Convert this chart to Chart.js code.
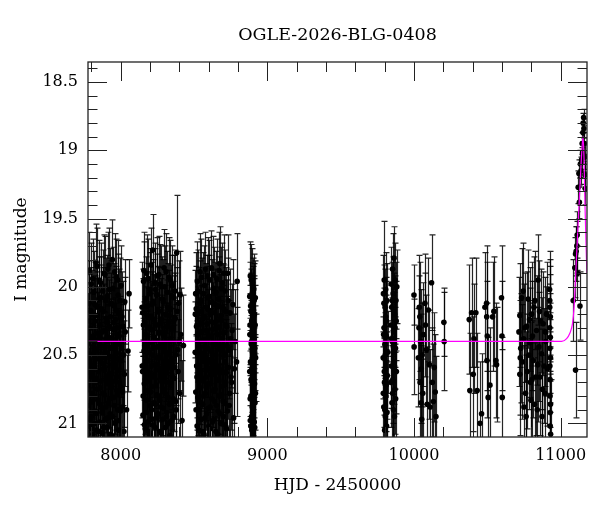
<!DOCTYPE html>
<html>
<head>
  <meta charset="utf-8">
  <title>OGLE-2026-BLG-0408</title>
  <script src="https://cdn.jsdelivr.net/npm/chart.js"></script>
  <style>
    body { margin: 0; background: #fff; }
    #wrap { width: 600px; height: 512px; }
  </style>
</head>
<body>
  <div id="wrap"><canvas id="lc" width="600" height="512"></canvas></div>

  <script>
    // ------------------- DATA --------------------
    // each point: [HJD - 2450000, I mag, error]
    const season1 = [
      [7778,20.41,0.36],[7781,20.87,0.42],[7784,20.12,0.31],[7787,21.02,0.45],[7790,20.55,0.37],[7793,20.30,0.33],[7796,20.95,0.43],[7799,19.98,0.30],[7802,20.66,0.39],[7805,20.20,0.32],
      [7808,20.78,0.41],[7811,21.08,0.46],[7814,20.36,0.34],[7817,20.04,0.30],[7820,20.59,0.38],[7823,20.91,0.43],[7826,20.25,0.33],[7829,20.70,0.40],[7832,19.82,0.28],[7835,20.47,0.36],
      [7838,21.05,0.45],[7841,20.15,0.31],[7844,20.83,0.42],[7847,20.39,0.35],[7850,20.62,0.38],[7853,19.95,0.29],[7856,20.99,0.44],[7859,20.28,0.33],[7862,20.74,0.40],[7865,20.08,0.30],
      [7868,20.52,0.37],[7871,21.07,0.46],[7874,20.33,0.34],[7877,20.89,0.43],[7880,20.18,0.32],[7883,20.60,0.38],[7886,19.90,0.28],[7889,20.79,0.41],[7892,20.44,0.36],[7895,20.97,0.44],
      [7898,20.10,0.31],[7901,20.68,0.39],[7904,20.26,0.33],[7907,21.03,0.45],[7910,20.50,0.37],[7913,19.87,0.27],[7916,20.85,0.42],[7919,20.37,0.35],[7922,20.64,0.39],[7925,20.02,0.30],
      [7928,20.93,0.43],[7931,20.22,0.32],[7934,20.72,0.40],[7937,20.45,0.36],[7940,21.09,0.46],[7943,19.80,0.29],[7946,20.57,0.38],[7949,20.31,0.34],[7952,20.81,0.41],[7955,20.14,0.31],
      [7958,20.69,0.39],[7961,21.00,0.44],[7964,20.24,0.33],[7967,20.49,0.37],[7970,19.93,0.28],[7973,20.76,0.41],[7976,20.35,0.34],[7979,20.90,0.43],[7982,20.06,0.30],[7985,20.61,0.38],
      [7988,20.19,0.32],[7991,20.98,0.44],[7994,20.42,0.35],[7998,20.73,0.40],[8002,19.99,0.29],[8006,20.54,0.37],[8011,20.88,0.42],[8016,20.29,0.33],[8022,21.06,0.45],[8028,20.11,0.31],
      [8040,20.90,0.40],[8050,20.47,0.30],[8057,20.05,0.25]
    ];
    const season1b = [
      [7779,20.72,0.40],[7782,20.25,0.34],[7785,19.88,0.28],[7788,20.49,0.37],[7791,20.97,0.44],[7794,20.63,0.39],[7797,20.18,0.32],[7800,20.84,0.42],[7803,21.04,0.45],[7806,20.39,0.35],
      [7809,19.94,0.29],[7812,20.58,0.38],[7815,20.80,0.41],[7818,20.27,0.33],[7821,21.00,0.44],[7824,20.13,0.31],[7827,20.46,0.36],[7830,20.93,0.43],[7833,20.67,0.39],[7836,20.21,0.32],
      [7839,19.85,0.28],[7842,20.75,0.40],[7845,20.34,0.34],[7848,21.06,0.45],[7851,20.09,0.31],[7854,20.53,0.37],[7857,20.86,0.42],[7860,20.43,0.36],[7863,19.97,0.29],[7866,20.69,0.40],
      [7869,20.16,0.32],[7872,20.92,0.43],[7875,20.56,0.38],[7878,20.03,0.30],[7881,20.78,0.41],[7884,21.03,0.45],[7887,20.32,0.34],[7890,20.61,0.38],[7893,19.91,0.28],[7896,20.48,0.37],
      [7899,20.88,0.43],[7902,20.23,0.33],[7905,20.71,0.40],[7908,20.07,0.30],[7911,20.96,0.44],[7914,20.40,0.35],[7917,20.65,0.39],[7920,19.84,0.27],[7923,20.29,0.34],[7926,20.82,0.42],
      [7929,21.08,0.46],[7932,20.51,0.37],[7935,20.12,0.31],[7938,20.74,0.40],[7941,20.38,0.35],[7944,20.95,0.44],[7947,20.01,0.30],[7950,20.59,0.38],[7953,20.26,0.33],[7956,20.87,0.42],
      [7959,19.89,0.28],[7962,20.44,0.36],[7965,20.99,0.44],[7968,20.17,0.32],[7971,20.66,0.39],[7974,20.30,0.34],[7977,20.79,0.41],[7980,19.95,0.29],[7983,20.53,0.37],[7986,21.05,0.45],
      [7989,20.36,0.35],[7992,20.70,0.40],[7995,20.10,0.31],[7999,20.91,0.43],[8004,20.45,0.36],[8009,20.22,0.33],[8014,20.77,0.41],[8019,20.50,0.37],[8025,20.64,0.39],[8031,20.33,0.40]
    ];
    const season2 = [
      [8146,20.15,0.33],[8149,20.62,0.39],[8152,20.94,0.43],[8155,20.28,0.34],[8158,19.88,0.28],[8161,20.71,0.40],[8164,20.43,0.36],[8167,21.04,0.45],[8170,20.09,0.31],[8173,20.55,0.37],
      [8176,20.83,0.42],[8179,20.21,0.32],[8182,20.99,0.44],[8185,20.36,0.35],[8188,19.94,0.29],[8191,20.67,0.39],[8194,20.48,0.36],[8197,21.08,0.46],[8200,20.02,0.30],[8203,20.77,0.41],
      [8206,20.31,0.34],[8209,20.58,0.38],[8212,20.90,0.43],[8215,20.13,0.31],[8218,19.73,0.26],[8221,20.45,0.36],[8224,21.01,0.45],[8227,20.24,0.33],[8230,20.64,0.39],[8233,19.97,0.29],
      [8236,20.86,0.42],[8239,20.39,0.35],[8242,20.72,0.40],[8245,20.06,0.30],[8248,20.96,0.44],[8251,20.52,0.37],[8254,20.17,0.32],[8257,20.80,0.41],[8260,19.91,0.28],[8263,20.34,0.34],
      [8266,21.06,0.46],[8269,20.60,0.38],[8272,20.27,0.33],[8275,20.88,0.43],[8278,20.00,0.30],[8281,20.69,0.40],[8284,20.42,0.36],[8287,20.97,0.44],[8290,20.11,0.31],[8293,20.56,0.37],
      [8296,19.86,0.28],[8299,20.75,0.41],[8302,20.33,0.34],[8305,21.03,0.45],[8308,20.20,0.32],[8311,20.63,0.39],[8314,20.92,0.43],[8317,20.04,0.30],[8320,20.49,0.37],[8323,20.81,0.42],
      [8326,20.26,0.33],[8329,19.93,0.29],[8332,20.70,0.40],[8335,21.09,0.46],[8338,20.38,0.35],[8341,20.16,0.32],[8344,20.85,0.42],[8347,20.53,0.37],[8350,19.99,0.29],[8353,20.66,0.39],
      [8356,20.30,0.34],[8360,20.95,0.44],[8364,20.08,0.31],[8368,20.59,0.38],[8372,20.23,0.33],[8376,20.84,0.42],[8382,19.75,0.42],[8388,20.46,0.36],[8395,20.12,0.31],[8402,20.78,0.41],
      [8410,20.35,0.34],[8418,20.98,0.44],[8428,20.43,0.37]
    ];
    const season2b = [
      [8147,20.58,0.38],[8150,20.19,0.32],[8153,20.80,0.41],[8156,19.96,0.29],[8159,20.47,0.36],[8162,21.01,0.45],[8165,20.26,0.33],[8168,20.68,0.40],[8171,20.35,0.35],[8174,20.92,0.43],
      [8177,19.90,0.28],[8180,20.54,0.37],[8183,20.14,0.31],[8186,20.76,0.41],[8189,21.06,0.46],[8192,20.30,0.34],[8195,20.63,0.39],[8198,20.05,0.30],[8201,20.87,0.42],[8204,20.41,0.36],
      [8207,19.84,0.27],[8210,20.73,0.40],[8213,20.22,0.33],[8216,20.97,0.44],[8219,20.50,0.37],[8222,20.11,0.31],[8225,20.66,0.39],[8228,20.85,0.42],[8231,20.37,0.35],[8234,21.03,0.45],
      [8237,20.02,0.30],[8240,20.57,0.38],[8243,20.28,0.33],[8246,20.79,0.41],[8249,19.92,0.28],[8252,20.44,0.36],[8255,20.93,0.43],[8258,20.18,0.32],[8261,20.61,0.38],[8264,20.33,0.34],
      [8267,20.83,0.42],[8270,19.98,0.29],[8273,20.52,0.37],[8276,21.07,0.46],[8279,20.24,0.33],[8282,20.70,0.40],[8285,20.09,0.31],[8288,20.45,0.36],[8291,20.89,0.43],[8294,20.36,0.35],
      [8297,20.65,0.39],[8300,20.00,0.30],[8303,20.78,0.41],[8306,20.48,0.36],[8309,19.89,0.28],[8312,20.95,0.44],[8315,20.29,0.34],[8318,20.60,0.38],[8321,20.15,0.32],[8324,21.00,0.44],
      [8327,20.55,0.37],[8330,20.21,0.33],[8333,20.86,0.42],[8336,20.40,0.35],[8339,19.95,0.29],[8342,20.72,0.40],[8345,20.31,0.34],[8348,20.98,0.44],[8351,20.07,0.30],[8354,20.59,0.38],
      [8358,20.82,0.42],[8362,20.25,0.33],[8366,20.67,0.39],[8370,20.03,0.30],[8374,20.50,0.37],[8379,20.90,0.43],[8385,20.18,0.32],[8392,20.62,0.38],[8399,20.40,0.36],[8406,20.06,0.32]
    ];
    const season3 = [
      [8508,20.48,0.37],[8511,20.05,0.30],[8514,20.90,0.43],[8517,20.29,0.34],[8520,20.66,0.39],[8523,19.96,0.29],[8526,20.81,0.42],[8529,20.40,0.35],[8532,21.05,0.45],[8535,20.18,0.32],
      [8538,20.58,0.38],[8541,19.89,0.28],[8544,20.74,0.41],[8547,20.33,0.34],[8550,20.97,0.44],[8553,20.10,0.31],[8556,20.52,0.37],[8559,20.86,0.42],[8562,20.23,0.33],[8565,20.69,0.40],
      [8568,21.08,0.46],[8571,19.99,0.29],[8574,20.44,0.36],[8577,20.78,0.41],[8580,20.15,0.32],[8583,20.61,0.38],[8586,20.93,0.43],[8589,20.27,0.33],[8592,19.92,0.28],[8595,20.71,0.40],
      [8598,20.37,0.35],[8601,21.02,0.45],[8604,20.07,0.30],[8607,20.55,0.37],[8610,20.88,0.43],[8613,20.20,0.32],[8616,20.64,0.39],[8619,19.86,0.27],[8622,20.47,0.36],[8625,20.99,0.44],
      [8628,20.31,0.34],[8631,20.76,0.41],[8634,20.01,0.30],[8637,20.57,0.38],[8640,20.84,0.42],[8643,20.13,0.31],[8646,20.42,0.36],[8649,21.06,0.46],[8652,20.25,0.33],[8655,19.94,0.29],
      [8658,20.68,0.40],[8661,20.35,0.35],[8664,20.91,0.43],[8667,20.09,0.31],[8670,20.60,0.38],[8673,20.80,0.41],[8676,19.83,0.27],[8679,20.46,0.36],[8682,21.00,0.44],[8685,20.21,0.32],
      [8688,20.73,0.40],[8691,20.38,0.35],[8694,19.97,0.29],[8697,20.63,0.39],[8700,20.95,0.44],[8703,20.16,0.32],[8706,20.50,0.37],[8709,20.85,0.42],[8712,20.03,0.30],[8715,20.70,0.40],
      [8718,20.28,0.33],[8722,21.04,0.45],[8726,20.43,0.36],[8730,19.90,0.28],[8735,20.59,0.38],[8740,20.87,0.43],[8746,20.19,0.32],[8752,20.66,0.39],[8760,20.32,0.34],[8770,20.96,0.44],
      [8780,20.40,0.38],[8790,20.55,0.40],[8794,19.96,0.35]
    ];
    const season3b = [
      [8509,20.20,0.32],[8512,20.77,0.41],[8515,20.16,0.31],[8518,20.58,0.38],[8521,21.02,0.45],[8524,20.35,0.35],[8527,20.03,0.30],[8530,20.69,0.40],[8533,20.44,0.36],[8536,20.90,0.43],
      [8539,20.12,0.31],[8542,20.62,0.39],[8545,20.27,0.33],[8548,20.85,0.42],[8551,19.93,0.28],[8554,20.49,0.37],[8557,21.06,0.46],[8560,20.39,0.35],[8563,20.05,0.30],[8566,20.80,0.41],
      [8569,20.54,0.37],[8572,20.22,0.33],[8575,20.96,0.44],[8578,19.87,0.27],[8581,20.66,0.39],[8584,20.32,0.34],[8587,20.74,0.40],[8590,20.08,0.31],[8593,20.45,0.36],[8596,20.89,0.43],
      [8599,20.17,0.32],[8602,20.60,0.38],[8605,19.95,0.29],[8608,20.71,0.40],[8611,21.04,0.45],[8614,20.36,0.35],[8617,20.53,0.37],[8620,20.11,0.31],[8623,20.82,0.42],[8626,20.26,0.33],
      [8629,20.64,0.39],[8632,19.91,0.28],[8635,20.97,0.44],[8638,20.41,0.36],[8641,20.19,0.32],[8644,20.75,0.41],[8647,20.50,0.37],[8650,20.04,0.30],[8653,20.87,0.42],[8656,20.30,0.34],
      [8659,20.58,0.38],[8662,21.08,0.46],[8665,20.14,0.31],[8668,20.68,0.40],[8671,19.88,0.28],[8674,20.43,0.36],[8677,20.93,0.43],[8680,20.24,0.33],[8683,20.61,0.38],[8686,20.01,0.30],
      [8689,20.79,0.41],[8692,20.47,0.36],[8695,20.15,0.32],[8698,20.84,0.42],[8701,20.34,0.35],[8704,19.90,0.28],[8707,20.72,0.40],[8710,20.55,0.37],[8713,21.01,0.45],[8716,20.18,0.32],
      [8720,20.63,0.39],[8724,20.29,0.34],[8728,20.91,0.43],[8733,20.10,0.31],[8738,20.46,0.36],[8743,20.78,0.41],[8749,20.38,0.36],[8756,20.70,0.40],[8765,20.13,0.33],[8775,20.60,0.40]
    ];
    const season4 = [
      [8880,20.07,0.25],[8881,20.35,0.30],[8883,20.82,0.35],[8884,19.92,0.25],[8885,20.55,0.32],[8887,21.02,0.40],[8888,20.18,0.28],[8889,20.68,0.33],[8891,20.42,0.30],[8892,20.95,0.38],
      [8893,20.25,0.28],[8895,20.60,0.32],[8896,19.98,0.26],[8897,20.88,0.36],[8899,20.48,0.31],[8900,21.07,0.40],[8901,20.12,0.27],[8903,20.75,0.34],[8904,20.30,0.29],[8905,20.92,0.37],
      [8907,20.02,0.26],[8908,20.63,0.33],[8909,20.38,0.30],[8911,20.99,0.39],[8912,20.20,0.28],[8913,20.71,0.34],[8915,20.45,0.31],[8916,20.85,0.36],[8918,20.08,0.27],[8920,20.52,0.32],
      [8880,20.62,0.33],[8882,20.28,0.29],[8884,20.98,0.39],[8886,20.14,0.27],[8888,20.80,0.35],[8890,19.95,0.26],[8892,20.40,0.30],[8894,21.05,0.40],[8896,20.33,0.29],[8898,20.70,0.34],
      [8900,20.05,0.26],[8902,20.58,0.32],[8904,20.90,0.37],[8906,20.22,0.28],[8908,20.82,0.35],[8910,20.10,0.27],[8912,20.50,0.31],[8914,21.03,0.40],[8917,20.28,0.29],[8919,20.78,0.35]
    ];
    const season5 = [
      [9790,20.52,0.30],[9792,20.05,0.28],[9794,20.88,0.35],[9796,20.30,0.29],[9797,19.95,0.43],[9799,20.70,0.33],[9800,21.05,0.38],[9802,20.42,0.30],[9803,20.15,0.28],[9805,20.95,0.36],
      [9806,20.60,0.31],[9808,20.22,0.29],[9809,20.80,0.34],[9811,20.36,0.30],[9813,21.02,0.37],[9815,20.10,0.27],[9818,20.65,0.32],[9821,20.48,0.30],
      [9842,20.28,0.29],[9844,19.98,0.27],[9846,20.58,0.31],[9848,20.15,0.28],[9850,20.85,0.34],[9852,20.40,0.30],[9854,19.87,0.26],[9856,20.68,0.32],[9858,20.05,0.27],[9860,20.90,0.35],
      [9862,20.33,0.29],[9864,19.79,0.23],[9866,20.55,0.31],[9868,20.20,0.28],[9870,20.75,0.33],[9872,19.95,0.27],[9874,20.45,0.30],[9877,20.10,0.28],[9880,20.62,0.31],[9883,20.00,0.27],
      [9791,20.78,0.34],[9793,20.35,0.30],[9795,20.12,0.28],[9798,20.62,0.32],[9801,20.90,0.36],[9804,20.50,0.31],[9807,20.02,0.27],[9810,20.72,0.34],[9812,20.25,0.29],[9816,20.92,0.37],
      [9843,20.70,0.33],[9847,20.38,0.30],[9851,20.10,0.28],[9855,20.78,0.34],[9859,20.48,0.31],[9863,20.18,0.28],[9867,20.95,0.37],[9871,20.30,0.29],[9875,20.82,0.35],[9879,20.25,0.29]
    ];
    const season6 = [
      [10000,20.06,0.22],[10001,20.44,0.35],[10030,20.52,0.36],[10034,20.30,0.38],[10036,20.15,0.38],[10040,20.22,0.40],[10042,20.70,0.40],[10045,20.40,0.38],[10048,20.85,0.42],[10050,20.60,0.40],
      [10053,20.97,0.44],[10056,20.50,0.38],[10060,20.78,0.42],[10064,20.35,0.38],[10075,20.12,0.36],[10078,20.28,0.38],[10085,20.46,0.40],[10090,20.86,0.42],[10098,20.17,0.38],[10105,20.57,0.40],
      [10110,20.88,0.42],[10120,19.97,0.35],[10125,20.70,0.40],[10132,20.84,0.42],[10138,20.59,0.40],[10145,20.77,0.42],[10150,20.95,0.44],[10204,20.26,0.25],[10206,20.40,0.36]
    ];
    const season7 = [
      [10377,20.24,0.40],[10381,20.76,0.42],[10393,20.19,0.40],[10404,20.64,0.42],[10409,20.38,0.40],[10422,20.19,0.40],[10431,20.76,0.42],[10450,21.00,0.45],[10461,20.93,0.44],[10484,20.15,0.40],
      [10495,20.12,0.42],[10496,20.22,0.40],[10498,20.54,0.42],[10500,20.36,0.40],[10506,20.81,0.44],[10518,20.72,0.42],[10536,20.22,0.40],[10545,20.18,0.40],[10559,20.54,0.42],[10563,20.57,0.42],
      [10597,20.08,0.38],[10600,20.36,0.40],[10602,20.81,0.44]
    ];
    const season8 = [
      [10716,20.33,0.40],[10722,20.21,0.38],[10722,20.64,0.45],[10728,20.45,0.40],[10734,20.08,0.36],[10740,20.55,0.42],[10745,20.03,0.35],[10750,20.88,0.45],[10755,20.30,0.40],[10761,20.78,0.45],
      [10768,20.29,0.40],[10772,20.62,0.42],[10779,20.09,0.36],[10784,20.50,0.40],[10791,20.41,0.40],[10795,20.70,0.44],[10798,20.83,0.45],[10802,20.20,0.38],[10808,20.36,0.40],[10813,20.54,0.42],
      [10818,20.15,0.37],[10825,20.10,0.36],[10830,20.66,0.43],[10836,20.32,0.40],[10841,20.90,0.45],[10847,19.95,0.33],[10852,20.44,0.40],[10859,20.66,0.43],[10864,20.25,0.38],[10870,20.49,0.41],
      [10876,20.75,0.44],[10881,20.27,0.38],[10887,20.58,0.42],[10893,20.78,0.44],[10899,20.40,0.40],[10904,20.20,0.38],[10910,20.60,0.42],
      [10725,20.52,0.42],[10748,20.38,0.40],[10765,20.95,0.45],[10788,20.24,0.38],[10805,20.68,0.43],[10822,20.86,0.45],[10844,20.57,0.42],[10856,20.18,0.37],[10873,20.95,0.45],[10896,20.33,0.40],
      [10925,20.02,0.28],[10926,20.15,0.30],[10926,20.30,0.32],[10927,20.45,0.33],[10927,20.58,0.34],[10928,20.68,0.35],[10928,20.80,0.36],[10929,20.92,0.37],[10929,21.02,0.38],
      [10930,20.22,0.31],[10930,20.37,0.32],[10931,20.52,0.33],[10931,20.86,0.36],[10932,21.08,0.40],[10926,20.10,0.30]
    ];
    const season9 = [
      [11086,20.10,0.30],[11097,19.86,0.22],[11102,20.61,0.35],[11102,19.76,0.20],[11106,19.74,0.18],[11111,19.70,0.18],[11113,19.62,0.17],[11115,19.90,0.20],[11120,19.27,0.12],[11125,19.17,0.10],
      [11128,19.38,0.12],[11132,20.14,0.25],[11135,19.10,0.10],[11139,19.15,0.10],[11143,19.07,0.09],[11147,18.95,0.08],[11150,19.02,0.08],[11152,18.87,0.07],[11154,18.80,0.07],[11157,18.76,0.06],
      [11159,18.84,0.07],[11161,18.95,0.08],[11163,19.05,0.09],[11166,19.18,0.10],[11168,19.28,0.12]
    ];

    // microlensing model curve
    const modelHjd = [7777, 10950, 11007, 11041, 11063, 11081, 11092, 11102, 11113, 11124, 11135, 11146, 11153, 11160, 11166, 11176, 11180];
    const modelMag = [20.40, 20.40, 20.40, 20.38, 20.34, 20.27, 20.15, 19.93, 19.68, 19.44, 19.20, 18.98, 18.90, 19.07, 19.39, 19.79, 19.90];

    // axes
    const xMajor = [8000, 9000, 10000, 11000];
    const xMinor = [7800, 8200, 8400, 8600, 8800, 9200, 9400, 9600, 9800, 10200, 10400, 10600, 10800];
    const yMajor = [18.5, 19, 19.5, 20, 20.5, 21];
    const yMinor = [18.4, 18.6, 18.7, 18.8, 18.9, 19.1, 19.2, 19.3, 19.4, 19.6, 19.7, 19.8, 19.9,
                    20.1, 20.2, 20.3, 20.4, 20.6, 20.7, 20.8, 20.9];

    const titleText = 'OGLE-2026-BLG-0408';
    const FONT = "'DejaVu Serif', serif";

    const obsPts = [season1, season1b, season2, season2b, season3, season3b, season4, season5, season6, season7, season8, season9]
      .flat()
      .map(p => ({ x: p[0], y: p[1], err: p[2] }));
    const modelPts = modelHjd.map((t, i) => ({ x: t, y: modelMag[i] }));

    // ------------------- PLUGINS --------------------
    // error bars, drawn under the points
    const errorBars = {
      id: 'errorBars',
      beforeDatasetsDraw(chart) {
        const { ctx, chartArea: a, scales: { x, y } } = chart;
        ctx.save();
        ctx.beginPath();
        ctx.rect(a.left, a.top, a.right - a.left, a.bottom - a.top);
        ctx.clip();
        ctx.strokeStyle = 'rgba(0,0,0,0.85)';
        ctx.lineWidth = 1.2;
        obsPts.forEach(p => {
          const px = Math.round(x.getPixelForValue(p.x)) + 0.5;
          const y1 = y.getPixelForValue(p.y - p.err);
          const y2 = y.getPixelForValue(p.y + p.err);
          ctx.beginPath();
          ctx.moveTo(px, y1); ctx.lineTo(px, y2);
          ctx.moveTo(px - 3, y1); ctx.lineTo(px + 3, y1);
          ctx.moveTo(px - 3, y2); ctx.lineTo(px + 3, y2);
          ctx.stroke();
        });
        ctx.restore();
      }
    };

    // box with inward ticks on all four sides, plus the title
    const frame = {
      id: 'frame',
      afterDraw(chart) {
        const { ctx, chartArea: a, scales: { x, y } } = chart;
        ctx.save();
        ctx.strokeStyle = '#222';
        ctx.lineWidth = 1.3;
        ctx.strokeRect(a.left, a.top, a.right - a.left, a.bottom - a.top);
        ctx.lineWidth = 1;
        ctx.beginPath();
        const xt = (v, len) => {
          const px = Math.round(x.getPixelForValue(v)) + 0.5;
          ctx.moveTo(px, a.bottom); ctx.lineTo(px, a.bottom - len);
          ctx.moveTo(px, a.top); ctx.lineTo(px, a.top + len);
        };
        const yt = (v, len) => {
          const py = Math.round(y.getPixelForValue(v)) + 0.5;
          ctx.moveTo(a.left, py); ctx.lineTo(a.left + len, py);
          ctx.moveTo(a.right, py); ctx.lineTo(a.right - len, py);
        };
        xMajor.forEach(v => xt(v, 19));
        xMinor.forEach(v => xt(v, 10));
        yMajor.forEach(v => yt(v, 19));
        yMinor.forEach(v => yt(v, 9.5));
        ctx.stroke();

        ctx.fillStyle = '#000';
        ctx.font = '17.5px ' + FONT;
        ctx.textAlign = 'center';
        ctx.textBaseline = 'middle';
        ctx.fillText(titleText, (a.left + a.right) / 2, 35);
        ctx.restore();
      }
    };

    // ------------------- CHART --------------------
    const lightCurve = new Chart(document.getElementById('lc'), {
      type: 'scatter',
      data: {
        datasets: [
          {
            label: 'model',
            data: modelPts,
            showLine: true,
            borderColor: '#ff00ff',
            borderWidth: 1.2,
            pointRadius: 0,
            cubicInterpolationMode: 'monotone',
            order: 0
          },
          {
            label: 'OGLE I',
            data: obsPts,
            pointRadius: 2.8,
            pointBackgroundColor: '#000',
            pointBorderWidth: 0,
            order: 1
          }
        ]
      },
      options: {
        responsive: false,
        animation: false,
        layout: { padding: { top: 62, right: 13, left: 0, bottom: 0 } },
        plugins: { legend: { display: false }, tooltip: { enabled: false } },
        scales: {
          x: {
            type: 'linear',
            min: 7777,
            max: 11180,
            grid: { display: false, drawTicks: false },
            border: { display: false },
            afterBuildTicks: s => { s.ticks = xMajor.map(v => ({ value: v })); },
            afterFit: s => { s.height = 75; },
            ticks: {
              font: { family: FONT, size: 16 },
              color: '#000',
              padding: 9,
              maxRotation: 0,
              autoSkip: false,
              callback: v => String(v)
            },
            title: {
              display: true,
              text: 'HJD - 2450000',
              font: { family: FONT, size: 17 },
              color: '#000',
              padding: { top: 0, bottom: 16 }
            }
          },
          y: {
            reverse: true,
            min: 18.353,
            max: 21.1,
            grid: { display: false, drawTicks: false },
            border: { display: false },
            afterBuildTicks: s => { s.ticks = yMajor.map(v => ({ value: v })); },
            afterFit: s => { s.width = 88; },
            ticks: {
              font: { family: FONT, size: 16 },
              color: '#000',
              padding: 10,
              autoSkip: false,
              callback: v => String(v)
            },
            title: {
              display: true,
              text: 'I magnitude',
              font: { family: FONT, size: 17 },
              color: '#000',
              padding: { top: 11, bottom: 0 }
            }
          }
        }
      },
      plugins: [errorBars, frame]
    });
  </script>
</body>
</html>
